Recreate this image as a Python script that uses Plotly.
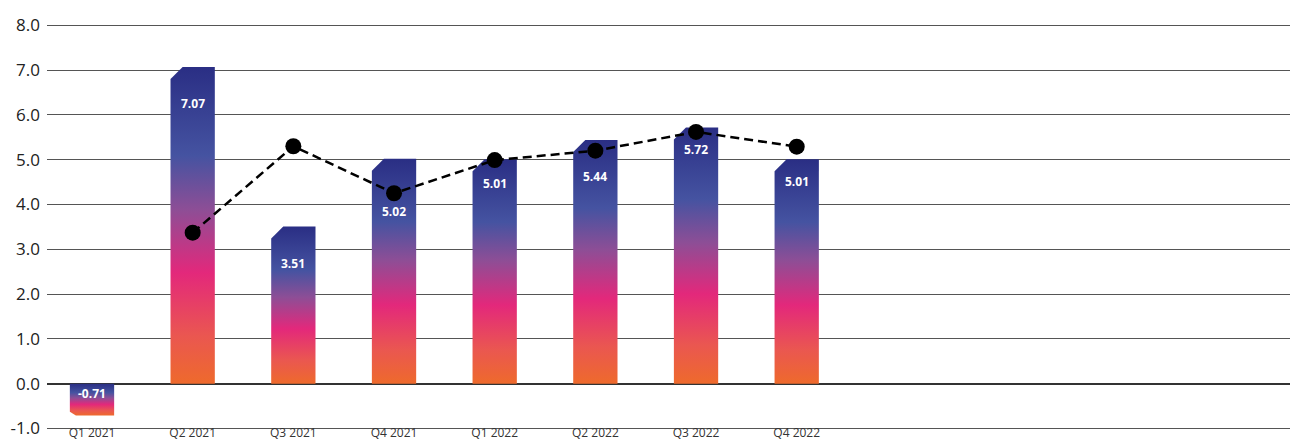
import plotly.graph_objects as go

categories = ["Q1 2021", "Q2 2021", "Q3 2021", "Q4 2021",
              "Q1 2022", "Q2 2022", "Q3 2022", "Q4 2022"]
bar_values = [-0.71, 7.07, 3.51, 5.02, 5.01, 5.44, 5.72, 5.01]
line_values = [None, 3.37, 5.30, 4.25, 4.99, 5.20, 5.62, 5.29]
label_shift = [-10, -37, -37, -53, -24, -37, -22, -22]  # px below bar top (style)
y_ticks = [-1, 0, 1, 2, 3, 4, 5, 6, 7, 8]

BAR_W = 0.44
CUT_X = 0.12
gradient = [[0.0, "#ee6a2c"], [0.15, "#ea5750"], [0.35, "#e3287b"],
            [0.55, "#8d4e96"], [0.72, "#4553a1"], [1.0, "#2a2e84"]]

fig = go.Figure()
xs = list(range(len(categories)))
for i, v in enumerate(bar_values):
    s = 1 if v >= 0 else -1
    cut_y = min(0.27, 0.12 * abs(v))
    cut_x = CUT_X if v >= 0 else 0.06
    l, r = i - BAR_W / 2, i + BAR_W / 2
    px = [l, l, l + cut_x, r, r, l]
    py = [0, v - s * cut_y, v, v, 0, 0]
    fig.add_trace(go.Scatter(
        x=px, y=py, mode="lines", fill="toself",
        line=dict(width=0, color="rgba(0,0,0,0)"),
        fillgradient=dict(type="vertical", colorscale=gradient),
        hoverinfo="skip", showlegend=False))

fig.add_trace(go.Scatter(
    x=xs, y=line_values, mode="lines+markers",
    line=dict(color="black", width=2.5, dash="9px,5px"),
    marker=dict(color="black", size=16),
    showlegend=False, hoverinfo="skip"))

for i, v in enumerate(bar_values):
    fig.add_annotation(
        x=i, y=max(v, 0), xref="x", yref="y", text=f"{v:.2f}",
        showarrow=False, yshift=label_shift[i],
        font=dict(family="Open Sans", size=12, color="white", weight="bold"))

fig.update_layout(
    width=1290, height=441,
    margin=dict(l=47, r=0, t=23, b=8),
    paper_bgcolor="white", plot_bgcolor="white",
    font=dict(family="Open Sans", color="#222"),
    xaxis=dict(range=[-0.447, 11.9], tickmode="array", tickvals=xs,
               ticktext=categories, showgrid=False, zeroline=False,
               showline=False, ticks="", automargin=False,
               ticklabelstandoff=-9,
               tickfont=dict(size=12, color="#333")),
    yaxis=dict(range=[-1.1, 8.05], tickmode="array", tickvals=y_ticks,
               ticktext=[f"{t:.1f}" for t in y_ticks],
               showgrid=True, gridcolor="#555", gridwidth=1,
               zeroline=True, zerolinecolor="#333", zerolinewidth=1.5,
               ticks="", ticklabelstandoff=6, automargin=False,
               tickfont=dict(size=17, color="#222")),
)

fig.write_html("out.html",
               config={"displayModeBar": False},
               post_script="document.body.style.margin='0';"
                           "document.body.style.overflow='hidden';")
